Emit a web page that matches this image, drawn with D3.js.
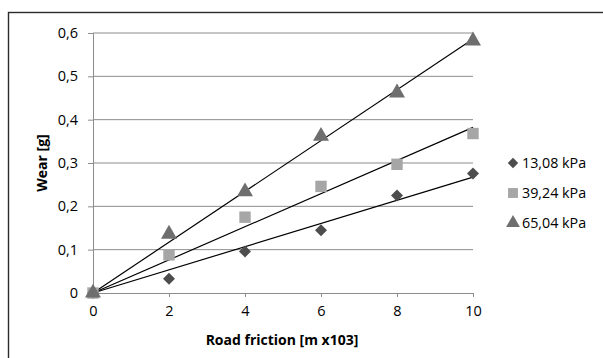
<!DOCTYPE html>
<html><head><meta charset="utf-8">
<script src="https://cdn.jsdelivr.net/npm/d3@7"></script>
<style>body{margin:0;background:#fff}svg{display:block}text{font-family:"Open Sans",sans-serif}</style>
</head><body><svg id="c" width="603" height="358"></svg>
<script>
const xValues = [0, 2, 4, 6, 8, 10];
const seriesNames = ["13,08 kPa", "39,24 kPa", "65,04 kPa"];
const wear1308 = [0, 0.033, 0.096, 0.145, 0.225, 0.276];
const wear3924 = [0, 0.088, 0.175, 0.246, 0.297, 0.368];
const wear6504 = [0, 0.136, 0.234, 0.362, 0.462, 0.582];
const xTicks = [0, 2, 4, 6, 8, 10];
const yTicks = [0, 0.1, 0.2, 0.3, 0.4, 0.5, 0.6];
const xTitle = "Road friction [m x103]";
const yTitle = "Wear [g]";

const series = [
  {name: seriesNames[0], values: wear1308, shape: d3.symbolSquare, rot: 45, color: "#4d4d4d", size: 72},
  {name: seriesNames[1], values: wear3924, shape: d3.symbolSquare, rot: 0, color: "#a6a6a6", size: 130},
  {name: seriesNames[2], values: wear6504, shape: d3.symbolTriangle, rot: 0, color: "#6e6e6e", size: 110}
];

const svg = d3.select("#c");
svg.append("rect").attr("x", 8.5).attr("y", 12.5).attr("width", 620).attr("height", 400)
  .attr("fill", "none").attr("stroke", "#2b2b2b").attr("stroke-width", 1.4);

const x = d3.scaleLinear().domain([0, 10]).range([93, 473]);
const y = d3.scaleLinear().domain([0, 0.6]).range([293, 33]);
const fmt = d => d === 0 ? "0" : d3.format(".1f")(d).replace(".", ",");

svg.append("g").selectAll("line").data(yTicks.filter(d => d > 0)).join("line")
  .attr("x1", x(0)).attr("x2", x(10)).attr("y1", d => y(d)).attr("y2", d => y(d))
  .attr("stroke", "#8c8c8c").attr("stroke-width", 1);

const yAxis = svg.append("g").attr("transform", `translate(${x(0)},0)`)
  .call(d3.axisLeft(y).tickValues(yTicks).tickFormat(fmt).tickSize(5).tickPadding(10));
const xAxis = svg.append("g").attr("transform", `translate(0,${y(0)})`)
  .call(d3.axisBottom(x).tickValues(xTicks).tickFormat(d => d).tickSize(4).tickPadding(9));
[yAxis, xAxis].forEach(a => {
  a.select(".domain").attr("stroke", "#8c8c8c");
  a.selectAll(".tick line").attr("stroke", "#8c8c8c");
  a.selectAll("text").attr("font-size", 14.5).attr("fill", "#000").attr("font-family", "'Open Sans', sans-serif");
});

const sxx = d3.sum(xValues, v => v * v);
series.forEach(s => {
  const k = d3.sum(xValues, (v, i) => v * s.values[i]) / sxx;
  svg.append("line").attr("x1", x(0)).attr("y1", y(0)).attr("x2", x(10)).attr("y2", y(k * 10))
    .attr("stroke", "#000").attr("stroke-width", 1.2);
});

series.forEach(s => {
  svg.append("g").selectAll("path").data(xValues).join("path")
    .attr("d", d3.symbol().type(s.shape).size(s.size))
    .attr("transform", (v, i) => `translate(${x(v)},${y(s.values[i])}) rotate(${s.rot})`)
    .attr("fill", s.color);
});

const lg = svg.append("g");
series.forEach((s, i) => {
  const yy = 163 + i * 30;
  lg.append("path").attr("d", d3.symbol().type(s.shape).size(s.size * 0.75))
    .attr("transform", `translate(513,${yy}) rotate(${s.rot})`).attr("fill", s.color);
  lg.append("text").attr("x", 522).attr("y", yy).attr("dy", "0.36em")
    .attr("font-size", 14.3).text(s.name);
});

svg.append("text").attr("x", x(5) - 1).attr("y", 345).attr("text-anchor", "middle")
  .attr("font-size", 14).attr("font-weight", "bold").text(xTitle);
svg.append("text").attr("transform", "translate(47,163) rotate(-90)").attr("text-anchor", "middle")
  .attr("font-size", 14).attr("font-weight", "bold").text(yTitle);
</script></body></html>
